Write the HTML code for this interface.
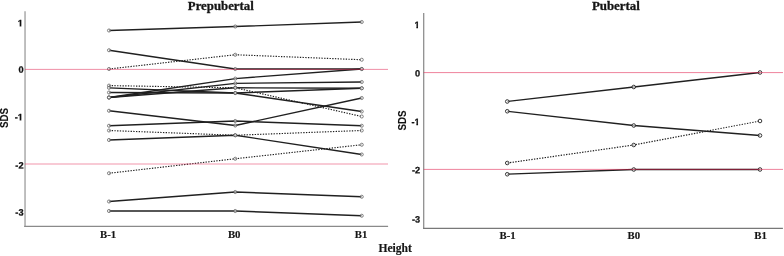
<!DOCTYPE html>
<html><head><meta charset="utf-8"><title>SDS Height</title>
<style>
html,body{margin:0;padding:0;background:#fff;}
body{width:784px;height:256px;overflow:hidden;}
svg{display:block;}
.ax{stroke:#a2a2a2;stroke-width:1.4;fill:none;}
.ax2{stroke:#909090;stroke-width:1.2;fill:none;}
.ln{stroke:#202020;stroke-width:1.35;fill:none;stroke-linejoin:round;}
.rp .ln{stroke-width:1.28;}
.rp .ln.dt{stroke-width:1.2;}
.ln.dt{stroke-dasharray:1.35 1.35;stroke-width:1.15;}
.mk{fill:rgba(255,255,255,0.5);stroke:#505050;stroke-width:0.7;}
.mr{fill:rgba(255,255,255,0.6);stroke:#222;stroke-width:0.9;}
.t{font-family:"Liberation Serif",serif;font-weight:bold;fill:#151515;stroke:#151515;stroke-width:0.15;}
.s.sd{font-size:9.7px;stroke-width:0.1;}
.tt{stroke:#1a1a1a;stroke-width:0.3;}
.s{font-family:"Liberation Sans",sans-serif;font-weight:bold;fill:#111;font-size:9.2px;stroke:#111;stroke-width:0.25;}
</style></head><body>
<svg width="784" height="256" viewBox="0 0 784 256">
<rect width="784" height="256" fill="#fff"/>
<!-- left panel -->
<path d="M25.05,11.2 V227" stroke="#bcbcbc" stroke-width="1.9" fill="none"/>
<path d="M24.2,226.4 H388.1" stroke="#8a8a8a" stroke-width="1.2" fill="none"/>
<polyline class="ln" points="109.0,30.5 235.25,26.5 361.75,22.0"/>
<polyline class="ln" points="109.0,50.25 235.25,69.0 361.75,69.0"/>
<polyline class="ln dt" points="109.0,69.0 235.25,54.75 361.75,59.75"/>
<polyline class="ln dt" points="109.0,85.6 235.25,87.75 361.75,116.5"/>
<polyline class="ln" points="109.0,87.8 235.25,93.0 361.75,111.5"/>
<polyline class="ln" points="109.0,92.5 235.25,93.0 361.75,88.25"/>
<polyline class="ln" points="109.0,97.5 235.25,78.6 361.75,69.0"/>
<polyline class="ln" points="109.0,97.5 235.25,83.4 361.75,82.0"/>
<polyline class="ln" points="109.0,97.5 235.25,87.75 361.75,88.25"/>
<polyline class="ln" points="109.0,110.75 235.25,125.5 361.75,98.0"/>
<polyline class="ln" points="109.0,125.75 235.25,121.0 361.75,125.75"/>
<polyline class="ln dt" points="109.0,130.5 235.25,135.25 361.75,130.5"/>
<polyline class="ln" points="109.0,140.0 235.25,135.25 361.75,154.5"/>
<polyline class="ln dt" points="109.0,173.25 235.25,158.75 361.75,144.75"/>
<polyline class="ln" points="109.0,201.5 235.25,192.0 361.75,196.75"/>
<polyline class="ln" points="109.0,211.0 235.25,211.0 361.75,215.75"/>
<circle class="mk" cx="109.0" cy="30.5" r="1.55"/>
<circle class="mk" cx="235.25" cy="26.5" r="1.55"/>
<circle class="mk" cx="361.75" cy="22.0" r="1.55"/>
<circle class="mk" cx="109.0" cy="50.25" r="1.55"/>
<circle class="mk" cx="235.25" cy="69.0" r="1.55"/>
<circle class="mk" cx="361.75" cy="69.0" r="1.55"/>
<circle class="mk" cx="109.0" cy="69.0" r="1.55"/>
<circle class="mk" cx="235.25" cy="54.75" r="1.55"/>
<circle class="mk" cx="361.75" cy="59.75" r="1.55"/>
<circle class="mk" cx="109.0" cy="85.6" r="1.55"/>
<circle class="mk" cx="235.25" cy="87.75" r="1.55"/>
<circle class="mk" cx="361.75" cy="116.5" r="1.55"/>
<circle class="mk" cx="109.0" cy="87.8" r="1.55"/>
<circle class="mk" cx="235.25" cy="93.0" r="1.55"/>
<circle class="mk" cx="361.75" cy="111.5" r="1.55"/>
<circle class="mk" cx="109.0" cy="92.5" r="1.55"/>
<circle class="mk" cx="235.25" cy="93.0" r="1.55"/>
<circle class="mk" cx="361.75" cy="88.25" r="1.55"/>
<circle class="mk" cx="109.0" cy="97.5" r="1.55"/>
<circle class="mk" cx="235.25" cy="78.6" r="1.55"/>
<circle class="mk" cx="361.75" cy="69.0" r="1.55"/>
<circle class="mk" cx="109.0" cy="97.5" r="1.55"/>
<circle class="mk" cx="235.25" cy="83.4" r="1.55"/>
<circle class="mk" cx="361.75" cy="82.0" r="1.55"/>
<circle class="mk" cx="109.0" cy="97.5" r="1.55"/>
<circle class="mk" cx="235.25" cy="87.75" r="1.55"/>
<circle class="mk" cx="361.75" cy="88.25" r="1.55"/>
<circle class="mk" cx="109.0" cy="110.75" r="1.55"/>
<circle class="mk" cx="235.25" cy="125.5" r="1.55"/>
<circle class="mk" cx="361.75" cy="98.0" r="1.55"/>
<circle class="mk" cx="109.0" cy="125.75" r="1.55"/>
<circle class="mk" cx="235.25" cy="121.0" r="1.55"/>
<circle class="mk" cx="361.75" cy="125.75" r="1.55"/>
<circle class="mk" cx="109.0" cy="130.5" r="1.55"/>
<circle class="mk" cx="235.25" cy="135.25" r="1.55"/>
<circle class="mk" cx="361.75" cy="130.5" r="1.55"/>
<circle class="mk" cx="109.0" cy="140.0" r="1.55"/>
<circle class="mk" cx="235.25" cy="135.25" r="1.55"/>
<circle class="mk" cx="361.75" cy="154.5" r="1.55"/>
<circle class="mk" cx="109.0" cy="173.25" r="1.55"/>
<circle class="mk" cx="235.25" cy="158.75" r="1.55"/>
<circle class="mk" cx="361.75" cy="144.75" r="1.55"/>
<circle class="mk" cx="109.0" cy="201.5" r="1.55"/>
<circle class="mk" cx="235.25" cy="192.0" r="1.55"/>
<circle class="mk" cx="361.75" cy="196.75" r="1.55"/>
<circle class="mk" cx="109.0" cy="211.0" r="1.55"/>
<circle class="mk" cx="235.25" cy="211.0" r="1.55"/>
<circle class="mk" cx="361.75" cy="215.75" r="1.55"/>
<line x1="25" y1="69.4" x2="388" y2="69.4" stroke="#e0204f" stroke-opacity="0.5" stroke-width="1"/>
<line x1="25" y1="164" x2="388" y2="164" stroke="#e0204f" stroke-opacity="0.24" stroke-width="2"/>
<text class="t tt" x="220.8" y="10.1" text-anchor="middle" font-size="12.8">Prepubertal</text>
<clipPath id="cL0"><rect x="8.85" y="14.20" width="15" height="10.90"/><rect x="19.68" y="25.00" width="1.66" height="3"/></clipPath>
<text class="s" x="22.85" y="26.2" transform="rotate(0.05 22.85 26.2)" text-anchor="end" clip-path="url(#cL0)">1</text>
<text class="s" x="23.5" y="72.7" transform="rotate(0.05 23.5 72.7)" text-anchor="end">0</text>
<clipPath id="cL2"><rect x="8.85" y="108.20" width="15" height="10.90"/><rect x="19.68" y="119.00" width="1.66" height="3"/></clipPath>
<text class="s" x="22.85" y="120.2" transform="rotate(0.05 22.85 120.2)" text-anchor="end" clip-path="url(#cL2)">-1</text>
<text class="s" x="23.5" y="168.5" transform="rotate(0.05 23.5 168.5)" text-anchor="end">-2</text>
<text class="s" x="23.5" y="215.5" transform="rotate(0.05 23.5 215.5)" text-anchor="end">-3</text>
<text class="s sd" transform="translate(7.8,118.0) rotate(-90) scale(1,1.05)" text-anchor="middle">SDS</text>
<text class="t" x="108.1" y="238.4" text-anchor="middle" font-size="10.8">B-1</text>
<text class="t" x="234.2" y="238.4" text-anchor="middle" font-size="10.8">B0</text>
<text class="t" x="361" y="238.4" text-anchor="middle" font-size="10.8">B1</text>
<text class="t" x="395.2" y="252.35" text-anchor="middle" font-size="11.6">Height</text>
<!-- right panel -->
<path d="M423.7,13 V228.9" stroke="#8c8c8c" stroke-width="1.25" fill="none"/>
<path d="M423.1,228.4 H782.9" stroke="#787878" stroke-width="1.15" fill="none"/>
<g class="rp">
<polyline class="ln" points="507.25,101.5 633.75,87.0 760.0,72.5"/>
<polyline class="ln" points="507.25,111.25 633.75,125.5 760.0,135.5"/>
<polyline class="ln dt" points="507.25,163.0 633.75,145.0 760.0,121.0"/>
<polyline class="ln" points="507.25,174.25 633.75,169.5 760.0,169.5"/>
<circle class="mk mr" cx="507.25" cy="101.5" r="1.8"/>
<circle class="mk mr" cx="633.75" cy="87.0" r="1.8"/>
<circle class="mk mr" cx="760.0" cy="72.5" r="1.8"/>
<circle class="mk mr" cx="507.25" cy="111.25" r="1.8"/>
<circle class="mk mr" cx="633.75" cy="125.5" r="1.8"/>
<circle class="mk mr" cx="760.0" cy="135.5" r="1.8"/>
<circle class="mk mr" cx="507.25" cy="163.0" r="1.8"/>
<circle class="mk mr" cx="633.75" cy="145.0" r="1.8"/>
<circle class="mk mr" cx="760.0" cy="121.0" r="1.8"/>
<circle class="mk mr" cx="507.25" cy="174.25" r="1.8"/>
<circle class="mk mr" cx="633.75" cy="169.5" r="1.8"/>
<circle class="mk mr" cx="760.0" cy="169.5" r="1.8"/>
</g>
<line x1="423.7" y1="72.6" x2="783" y2="72.6" stroke="#e0204f" stroke-opacity="0.56" stroke-width="1"/>
<line x1="423.7" y1="169.4" x2="783" y2="169.4" stroke="#e0204f" stroke-opacity="0.56" stroke-width="1"/>
<text class="t tt" x="615.9" y="9.7" text-anchor="middle" font-size="12.9">Pubertal</text>
<clipPath id="cR0"><rect x="405.55" y="15.90" width="15" height="10.90"/><rect x="416.38" y="26.70" width="1.66" height="3"/></clipPath>
<text class="s" x="419.55" y="27.9" transform="rotate(0.05 419.55 27.9)" text-anchor="end" clip-path="url(#cR0)">1</text>
<text class="s" x="420.2" y="76.4" transform="rotate(0.05 420.2 76.4)" text-anchor="end">0</text>
<clipPath id="cR2"><rect x="405.55" y="113.00" width="15" height="10.90"/><rect x="416.38" y="123.80" width="1.66" height="3"/></clipPath>
<text class="s" x="419.55" y="125.0" transform="rotate(0.05 419.55 125.0)" text-anchor="end" clip-path="url(#cR2)">-1</text>
<text class="s" x="420.2" y="173.3" transform="rotate(0.05 420.2 173.3)" text-anchor="end">-2</text>
<text class="s" x="420.2" y="222.4" transform="rotate(0.05 420.2 222.4)" text-anchor="end">-3</text>
<text class="s sd" transform="translate(406.0,120.5) rotate(-90) scale(1,1.05)" text-anchor="middle">SDS</text>
<text class="t" x="507.6" y="239.4" text-anchor="middle" font-size="10.8">B-1</text>
<text class="t" x="633.9" y="239.4" text-anchor="middle" font-size="10.8">B0</text>
<text class="t" x="760.6" y="239.4" text-anchor="middle" font-size="10.8">B1</text>
</svg>
</body></html>
